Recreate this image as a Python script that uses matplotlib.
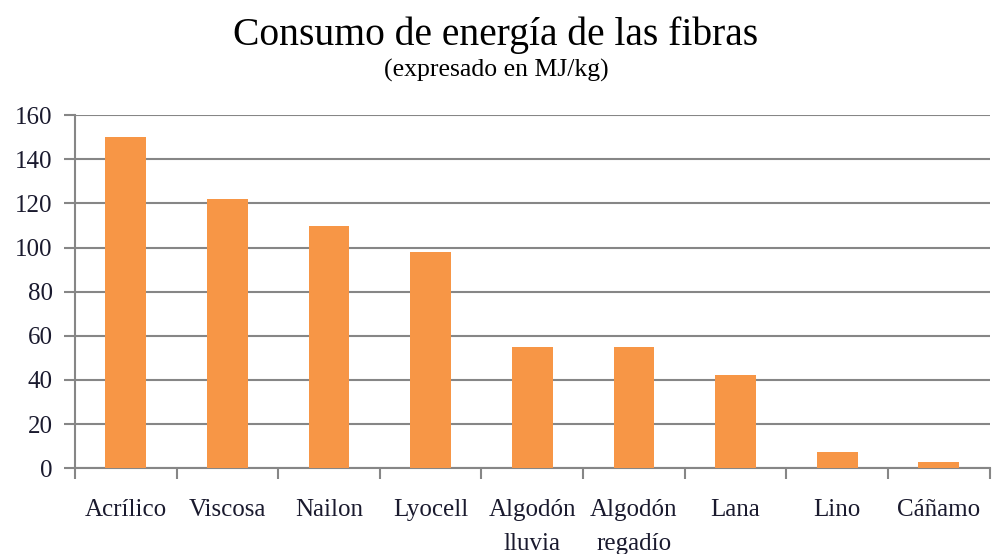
import numpy as np
import matplotlib.pyplot as plt

# datos: consumo de energía por fibra (MJ/kg)
fibras = ["Acrílico", "Viscosa", "Nailon", "Lyocell", "Algodón\nlluvia",
          "Algodón\nregadío", "Lana", "Lino", "Cáñamo"]
consumo = [150, 122, 110, 98, 55, 55, 42, 7.5, 3]
y_ticks = [0, 20, 40, 60, 80, 100, 120, 140, 160]

plt.rcParams['font.family'] = ['Liberation Serif', 'DejaVu Serif']

fig = plt.figure(figsize=(9.92, 5.54), dpi=100)
ax = fig.add_axes([0.0756, 0.155, 0.922, 0.637])

x = np.arange(len(fibras))
ax.bar(x, consumo, width=0.4, color="#F79646", zorder=3)

ax.set_xlim(-0.5, len(fibras) - 0.5)
ax.set_ylim(0, 160)
ax.set_yticks(y_ticks)
ax.yaxis.grid(True, color="#868686", linewidth=1.5, zorder=0)

# marcas del eje x entre categorías
ax.set_xticks(np.arange(-0.5, len(fibras), 1.0))
ax.set_xticklabels([])
ax.set_xticks(x, minor=True)
ax.set_xticklabels(fibras, minor=True, fontsize=18, color="#1a1a2e", linespacing=1.75)
ax.tick_params(axis='x', which='major', direction='out', length=8, width=1.5, color="#868686")
ax.tick_params(axis='x', which='minor', length=0, pad=22)
ax.tick_params(axis='y', direction='out', length=8, width=1.5, color="#868686",
               labelsize=18, labelcolor="#1a1a2e", pad=8)

for s in ["top", "right"]:
    ax.spines[s].set_visible(False)
for s in ["left", "bottom"]:
    ax.spines[s].set_color("#868686")
    ax.spines[s].set_linewidth(1.5)

fig.text(0.5, 0.937, "Consumo de energía de las fibras", ha="center", va="center",
         fontsize=28.5, color="#000000")
fig.text(0.5, 0.873, "(expresado en MJ/kg)", ha="center", va="center",
         fontsize=18.5, color="#000000")

fig.savefig("out.png", dpi=100)
